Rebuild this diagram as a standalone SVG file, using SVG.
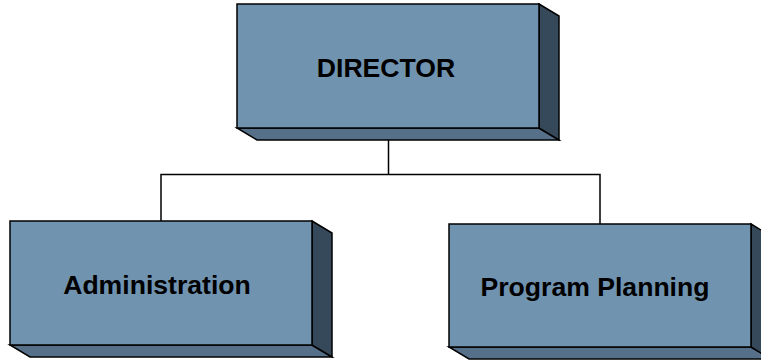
<svg xmlns="http://www.w3.org/2000/svg" width="761" height="360" viewBox="0 0 761 360">
  <style>
    .front { fill: #7093B0; stroke: #000; stroke-width: 1.5; stroke-linejoin: miter; }
    .bottom { fill: #56708A; stroke: #000; stroke-width: 1.5; }
    .side { fill: #36495A; stroke: #000; stroke-width: 1.5; }
    .label { font-family: "Liberation Sans", Arial, sans-serif; font-weight: bold; font-size: 26.6px; fill: #000; text-anchor: middle; }
    .wire { fill: none; stroke: #000; stroke-width: 1.5; }
  </style>

  <!-- connectors -->
  <g id="connectors">
    <path class="wire" d="M388.5 134 V174.5 M161 221 V174.5 H600 V224"/>
  </g>

  <!-- DIRECTOR: front 237..539 x 4..128, depth (20,12) -->
  <g id="director">
    <polygon class="bottom" points="237,128 539,128 559,140 257,140"/>
    <polygon class="side" points="539,4 559,16 559,140 539,128"/>
    <rect class="front" x="237" y="4" width="302" height="124"/>
    <text class="label" x="386" y="76.5">DIRECTOR</text>
  </g>

  <!-- Administration -->
  <g id="administration">
    <polygon class="bottom" points="10,345 312,345 332,357 30,357"/>
    <polygon class="side" points="312,221 332,233 332,357 312,345"/>
    <rect class="front" x="10" y="221" width="302" height="124"/>
    <text class="label" x="157" y="293.5">Administration</text>
  </g>

  <!-- Program Planning -->
  <g id="program-planning">
    <polygon class="bottom" points="449,347 751,347 771,359 469,359"/>
    <polygon class="side" points="751,224 771,236 771,359 751,347"/>
    <rect class="front" x="449" y="224" width="302" height="123"/>
    <text class="label" x="595" y="295.5">Program Planning</text>
  </g>
</svg>
